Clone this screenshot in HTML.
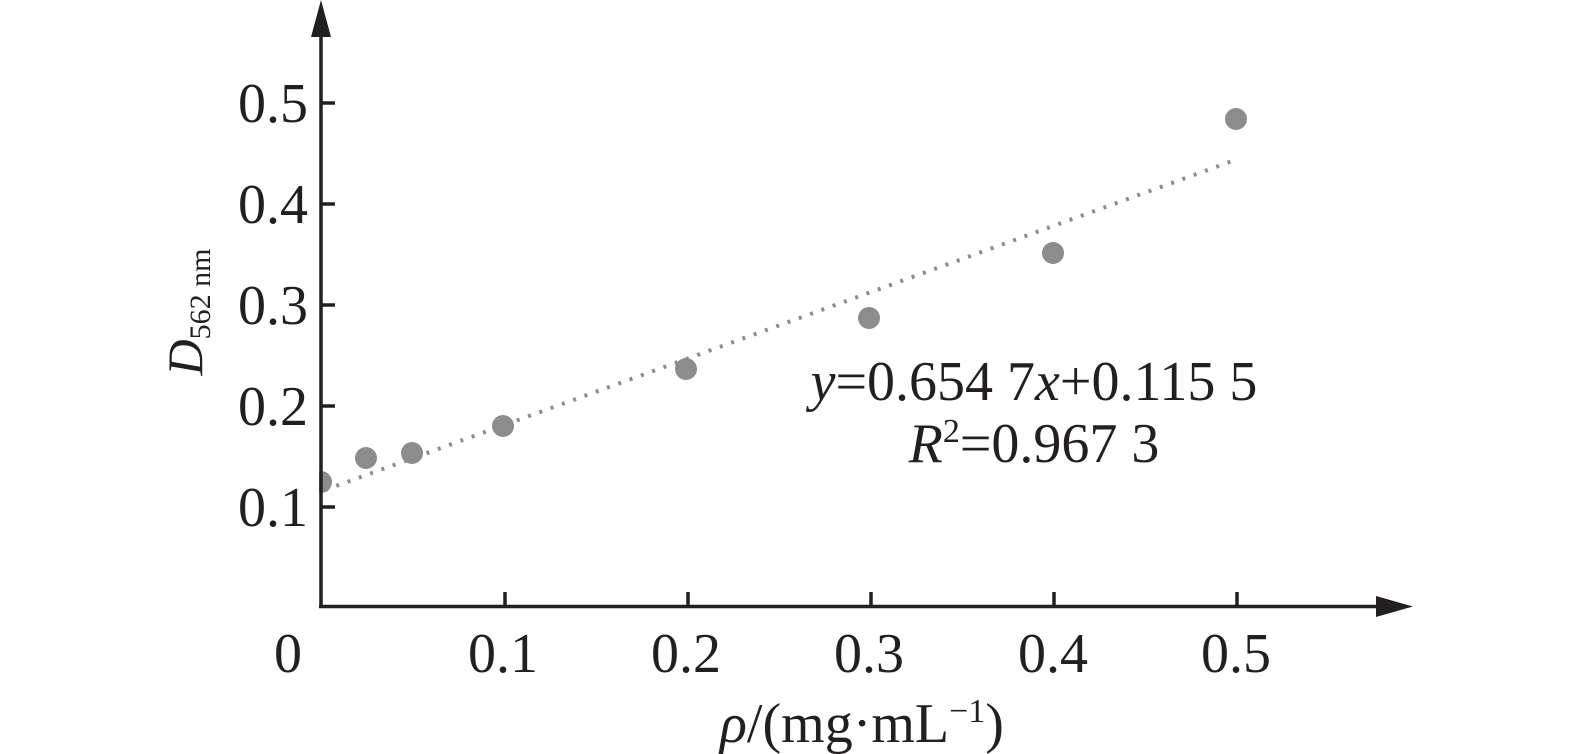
<!DOCTYPE html>
<html><head><style>body{margin:0;background:#fff}svg{display:block}text{font-family:"Liberation Serif",serif;fill:#231f20}</style></head>
<body>
<svg width="1575" height="754" viewBox="0 0 1575 754">
<g fill="#8c8c8c">
<circle cx="321" cy="482" r="11"/><circle cx="366" cy="458" r="11"/><circle cx="412" cy="453" r="11"/>
<circle cx="503" cy="426" r="11"/><circle cx="686" cy="369" r="11"/><circle cx="869" cy="318" r="11"/>
<circle cx="1053" cy="253" r="11"/><circle cx="1236" cy="119" r="11"/>
</g>
<line x1="325" y1="490" x2="1238" y2="159" stroke="#8c8c8c" stroke-width="4" stroke-dasharray="3 9"/>
<rect x="309" y="468" width="10" height="28" fill="#fff"/>
<g stroke="#231f20" stroke-width="3.5" fill="none">
<line x1="321" y1="30" x2="321" y2="608"/>
<line x1="319" y1="606.5" x2="1385" y2="606.5"/>
<line x1="321" y1="507" x2="335" y2="507"/><line x1="321" y1="406" x2="335" y2="406"/>
<line x1="321" y1="305" x2="335" y2="305"/><line x1="321" y1="204" x2="335" y2="204"/>
<line x1="321" y1="103" x2="335" y2="103"/>
<line x1="505" y1="606" x2="505" y2="592"/><line x1="688" y1="606" x2="688" y2="592"/>
<line x1="871" y1="606" x2="871" y2="592"/><line x1="1054" y1="606" x2="1054" y2="592"/>
<line x1="1237" y1="606" x2="1237" y2="592"/>
</g>
<polygon points="321,0 311,37 331,37" fill="#231f20"/>
<polygon points="1413,606.5 1376,596 1376,617" fill="#231f20"/>
<g font-size="56" text-anchor="end">
<text x="308" y="526">0.1</text><text x="308" y="425">0.2</text><text x="308" y="324">0.3</text>
<text x="308" y="223">0.4</text><text x="308" y="122">0.5</text>
</g>
<g font-size="56" text-anchor="middle">
<text x="288" y="672">0</text><text x="503" y="672">0.1</text><text x="686" y="672">0.2</text>
<text x="869" y="672">0.3</text><text x="1053" y="672">0.4</text><text x="1236" y="672">0.5</text>
<text x="1034" y="400"><tspan font-style="italic">y</tspan>=0.654 7<tspan font-style="italic">x</tspan>+0.115 5</text>
<text x="1034" y="462"><tspan font-style="italic">R</tspan><tspan font-size="34" dy="-20">2</tspan><tspan dy="20">=0.967 3</tspan></text>
<text x="862" y="742"><tspan font-style="italic">ρ</tspan>/(mg·mL<tspan font-size="34" dy="-20">−1</tspan><tspan dy="20">)</tspan></text>
</g>
<text transform="translate(202,312) rotate(-90)" font-size="50" text-anchor="middle"><tspan font-style="italic">D</tspan><tspan font-size="30" dy="8">562 nm</tspan></text>
</svg>
</body></html>
